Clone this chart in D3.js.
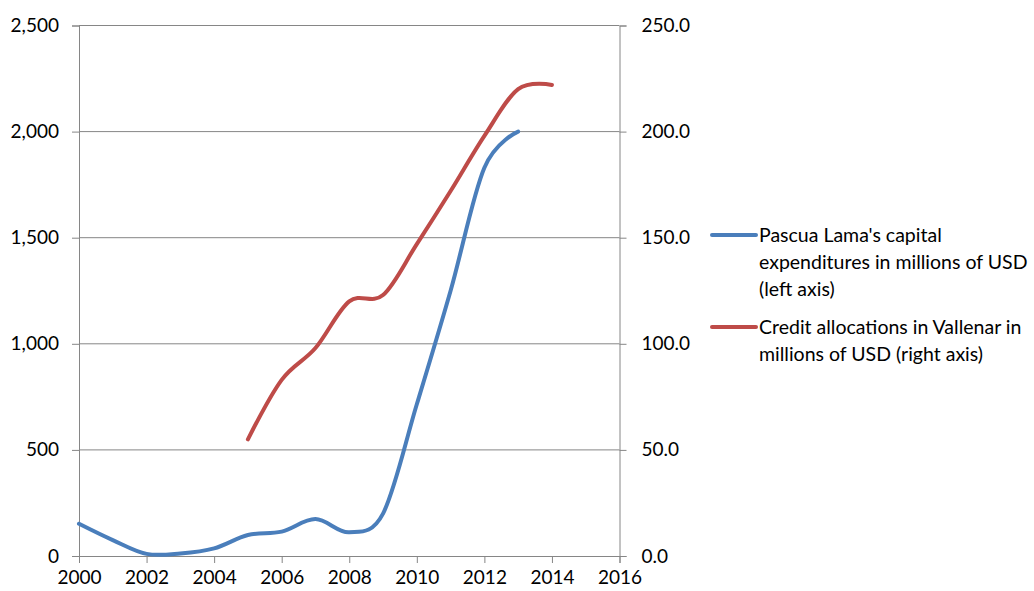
<!DOCTYPE html>
<html>
<head>
<meta charset="utf-8">
<script src="https://cdn.jsdelivr.net/npm/d3@7"></script>
<style>
  body { margin: 0; background: #fff; }
  text { font-family: Lato, "Open Sans", sans-serif; fill: #000; }
</style>
</head>
<body>
<script>
// Chart data
var capexYears = [2000, 2001, 2002, 2003, 2004, 2005, 2006, 2007, 2008, 2009, 2010, 2011, 2012, 2013];
var capexValues = [152, 75, 10, 12, 36, 99, 115, 174, 112, 200, 715, 1250, 1830, 2000];

var creditYears = [2005, 2006, 2007, 2008, 2009, 2010, 2011, 2012, 2013, 2014];
var creditValues = [55, 83, 98, 120, 123, 147, 172, 198, 220, 222];

var xTicks = [2000, 2002, 2004, 2006, 2008, 2010, 2012, 2014, 2016];
var leftTicks = [0, 500, 1000, 1500, 2000, 2500];
var rightTicks = [0, 50, 100, 150, 200, 250];

var legendLabels = [
  ["Pascua Lama's capital", "expenditures in millions of USD", "(left axis)"],
  ["Credit allocations in Vallenar in", "millions of USD (right axis)"]
];

var blue = "#4a7ebb", red = "#be4b48", axisGray = "#868686";

var svgWidth = 1034, svgHeight = 591;
var margin = { top: 25.5, right: 414.5, bottom: 35, left: 79 };
var width = svgWidth - margin.left - margin.right;
var height = svgHeight - margin.top - margin.bottom;

var svg = d3.select("body").append("svg")
  .attr("width", svgWidth)
  .attr("height", svgHeight);

var chartGroup = svg.append("g")
  .attr("transform", `translate(${margin.left}, ${margin.top})`);

var x = d3.scaleLinear().domain([2000, 2016]).range([0, width]);
var yLeft = d3.scaleLinear().domain([0, 2500]).range([height, 0]);
var yRight = d3.scaleLinear().domain([0, 250]).range([height, 0]);

// gridlines
chartGroup.selectAll(".grid")
  .data(leftTicks.filter(d => d > 0))
  .enter()
  .append("line")
  .attr("x1", 0).attr("x2", width)
  .attr("y1", d => yLeft(d)).attr("y2", d => yLeft(d))
  .attr("stroke", axisGray).attr("stroke-width", 1);

// axes
var leftAxis = d3.axisLeft(yLeft).tickValues(leftTicks).tickFormat(d3.format(",")).tickSize(7).tickPadding(13);
var rightAxis = d3.axisRight(yRight).tickValues(rightTicks).tickFormat(d3.format(".1f")).tickSize(7).tickPadding(15);
var bottomAxis = d3.axisBottom(x).tickValues(xTicks).tickFormat(d3.format("d")).tickSize(7).tickPadding(8);

function styleAxis(g) {
  g.select(".domain").attr("stroke", axisGray);
  g.selectAll(".tick line").attr("stroke", axisGray);
  g.selectAll(".tick text").style("font-size", "19px").attr("fill", "#000");
}

chartGroup.append("g").call(leftAxis).call(styleAxis);
chartGroup.append("g").attr("transform", `translate(${width}, 0)`).call(rightAxis).call(styleAxis);
chartGroup.append("g").attr("transform", `translate(0, ${height})`).call(bottomAxis).call(styleAxis);

// lines
var curve = d3.curveCardinal.tension(0);

var capexLine = d3.line()
  .x((d, i) => x(capexYears[i]))
  .y(d => yLeft(d))
  .curve(curve);

var creditLine = d3.line()
  .x((d, i) => x(creditYears[i]))
  .y(d => yRight(d))
  .curve(curve);

chartGroup.append("path")
  .attr("d", capexLine(capexValues))
  .attr("fill", "none").attr("stroke", blue)
  .attr("stroke-width", 4).attr("stroke-linecap", "round");

chartGroup.append("path")
  .attr("d", creditLine(creditValues))
  .attr("fill", "none").attr("stroke", red)
  .attr("stroke-width", 4).attr("stroke-linecap", "round");

// legend
var legend = svg.append("g").attr("transform", "translate(712, 235)");
var legendColors = [blue, red];
var offsets = [0, 92];

legendLabels.forEach(function(lines, i) {
  var g = legend.append("g").attr("transform", `translate(0, ${offsets[i]})`);
  g.append("line")
    .attr("x1", 0).attr("x2", 44).attr("y1", 0).attr("y2", 0)
    .attr("stroke", legendColors[i]).attr("stroke-width", 4).attr("stroke-linecap", "round");
  g.selectAll("text")
    .data(lines)
    .enter()
    .append("text")
    .attr("x", 47)
    .attr("y", (d, j) => j * 27)
    .attr("dy", "0.35em")
    .style("font-size", "19.5px")
    .text(d => d);
});
</script>
</body>
</html>
